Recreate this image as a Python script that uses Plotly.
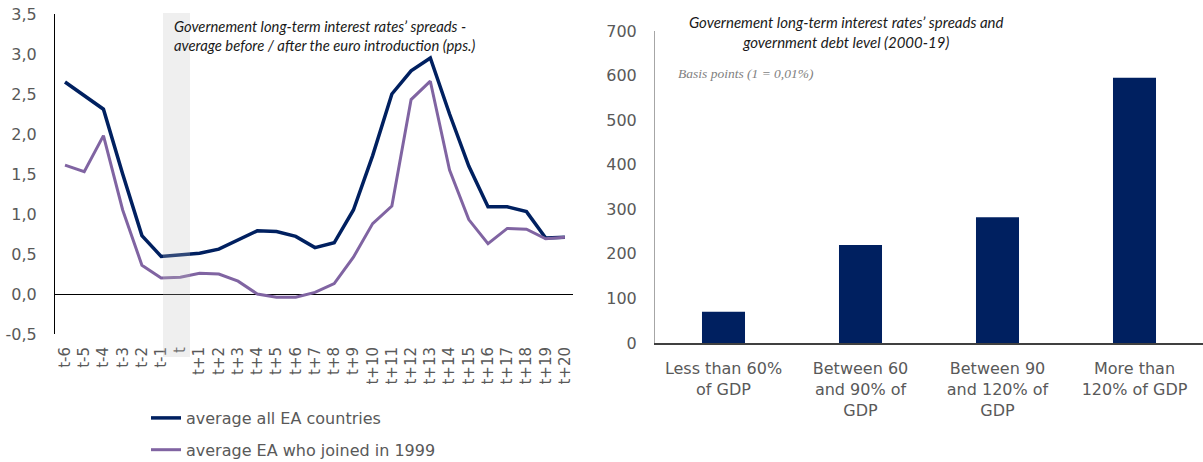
import plotly.graph_objects as go

# ---- Left panel: spreads around euro introduction (pps.) ----
periods = ["t-6", "t-5", "t-4", "t-3", "t-2", "t-1", "t",
           "t+1", "t+2", "t+3", "t+4", "t+5", "t+6", "t+7", "t+8", "t+9",
           "t+10", "t+11", "t+12", "t+13", "t+14", "t+15", "t+16", "t+17",
           "t+18", "t+19", "t+20"]
avg_all_ea = [2.65, 2.48, 2.31, 1.50, 0.73, 0.47, 0.49,
              0.51, 0.56, 0.67, 0.79, 0.78, 0.72, 0.58, 0.64, 1.05,
              1.73, 2.50, 2.79, 2.95, 2.25, 1.60, 1.09, 1.09,
              1.03, 0.70, 0.71]
avg_ea_1999 = [1.61, 1.53, 1.98, 1.05, 0.36, 0.20, 0.21,
               0.26, 0.25, 0.16, 0.00, -0.04, -0.04, 0.02, 0.13, 0.46,
               0.88, 1.10, 2.43, 2.66, 1.55, 0.93, 0.63, 0.82,
               0.81, 0.69, 0.71]
series_names = ["average all EA countries", "average EA who joined in 1999"]
pps_tick_vals = [-0.5, 0.0, 0.5, 1.0, 1.5, 2.0, 2.5, 3.0, 3.5]
pps_tick_text = ["-0,5", "0,0", "0,5", "1,0", "1,5", "2,0", "2,5", "3,0", "3,5"]

# ---- Right panel: spreads by debt level (basis points) ----
debt_groups = ["Less than 60%<br>of GDP", "Between 60<br>and 90% of<br>GDP",
               "Between 90<br>and 120% of<br>GDP", "More than<br>120% of GDP"]
spread_bp = [70, 220, 282, 595]

W, H = 1203, 462
NAVY = "#002060"
PURPLE = "#8064A2"
TICK_GREY = "#595959"
TICK_FONT = "DejaVu Sans"

def px_x(p):
    return p / W

def px_y(p):
    return 1 - p / H

fig = go.Figure()

fig.add_trace(go.Scatter(
    x=periods, y=avg_all_ea, name=series_names[0], mode="lines",
    line=dict(color=NAVY, width=3.5), xaxis="x", yaxis="y",
    legendgroup="a"))
fig.add_trace(go.Scatter(
    x=periods, y=avg_ea_1999, name=series_names[1], mode="lines",
    line=dict(color=PURPLE, width=3), xaxis="x", yaxis="y",
    legendgroup="b"))

fig.add_trace(go.Bar(
    x=debt_groups, y=spread_bp, marker=dict(color=NAVY, line=dict(width=0)),
    xaxis="x2", yaxis="y2", showlegend=False))

left_dom = [px_x(55), px_x(573)]
right_dom = [px_x(655), 1.0]

fig.update_layout(
    width=W, height=H,
    margin=dict(l=0, r=0, t=0, b=0, autoexpand=False),
    paper_bgcolor="white", plot_bgcolor="white",
    separators=", ",
    bargap=0.686,
    showlegend=True,
    legend=dict(
        x=px_x(146), y=px_y(401), xanchor="left", yanchor="top",
        bgcolor="rgba(0,0,0,0)", font=dict(family=TICK_FONT, size=16, color=TICK_GREY),
        traceorder="grouped", tracegroupgap=8, itemwidth=30,
    ),
    xaxis=dict(
        domain=left_dom, anchor="y", type="category", automargin=False,
        range=[-0.52, 26.42], showgrid=False, showline=False, zeroline=False,
        tickangle=-90, ticks="", ticklabelstandoff=9,
        tickfont=dict(family=TICK_FONT, size=15, color=TICK_GREY),
    ),
    yaxis=dict(
        domain=[px_y(334), px_y(14)], anchor="x", automargin=False,
        range=[-0.5, 3.5], tickmode="array",
        tickvals=pps_tick_vals, ticktext=pps_tick_text,
        showgrid=False, showline=True, linecolor="black", linewidth=1,
        zeroline=True, zerolinecolor="black", zerolinewidth=1,
        ticks="", ticklabelstandoff=14,
        tickfont=dict(family=TICK_FONT, size=16, color=TICK_GREY),
    ),
    xaxis2=dict(
        domain=right_dom, anchor="y2", type="category", automargin=False,
        range=[-0.5, 3.5], showgrid=False, showline=True,
        linecolor="#404040", linewidth=2, ticks="", ticklabelstandoff=10,
        tickfont=dict(family=TICK_FONT, size=16, color=TICK_GREY),
    ),
    yaxis2=dict(
        domain=[px_y(343), px_y(31)], anchor="x2", automargin=False,
        range=[0, 700], dtick=100, showgrid=False, zeroline=False,
        showline=True, linecolor="#a6a6a6", linewidth=1,
        ticks="", ticklabelstandoff=14,
        tickfont=dict(family=TICK_FONT, size=16, color=TICK_GREY),
    ),
)

# Shaded euro-introduction window
fig.add_shape(
    type="rect", xref="x domain", yref="paper",
    x0=(163 - 55) / 518, x1=(190 - 55) / 518,
    y0=px_y(357), y1=px_y(13),
    fillcolor="rgba(191,191,191,0.25)", line=dict(width=0), layer="above",
)

TITLE_FONT = dict(family="Lato", size=15, color="#1a1a1a", style="italic")

fig.add_annotation(
    xref="paper", yref="paper", x=px_x(172), y=px_y(35),
    xanchor="left", yanchor="middle", showarrow=False, align="left",
    text="Governement long-term interest rates’ spreads -<br>"
         "average before / after the euro introduction (pps.)",
    font=dict(TITLE_FONT, size=14.8),
)
fig.add_annotation(
    xref="paper", yref="paper", x=px_x(846), y=px_y(32),
    xanchor="center", yanchor="middle", showarrow=False, align="center",
    text="Governement long-term interest rates’ spreads and<br>"
         "government debt level (2000-19)",
    font=TITLE_FONT,
)
fig.add_annotation(
    xref="paper", yref="paper", x=px_x(676), y=px_y(73),
    xanchor="left", yanchor="middle", showarrow=False,
    text="Basis points (1 = 0,01%)",
    font=dict(family="Liberation Serif", size=13.5, color="#7f7f7f", style="italic"),
)

fig.write_html("out.html")
